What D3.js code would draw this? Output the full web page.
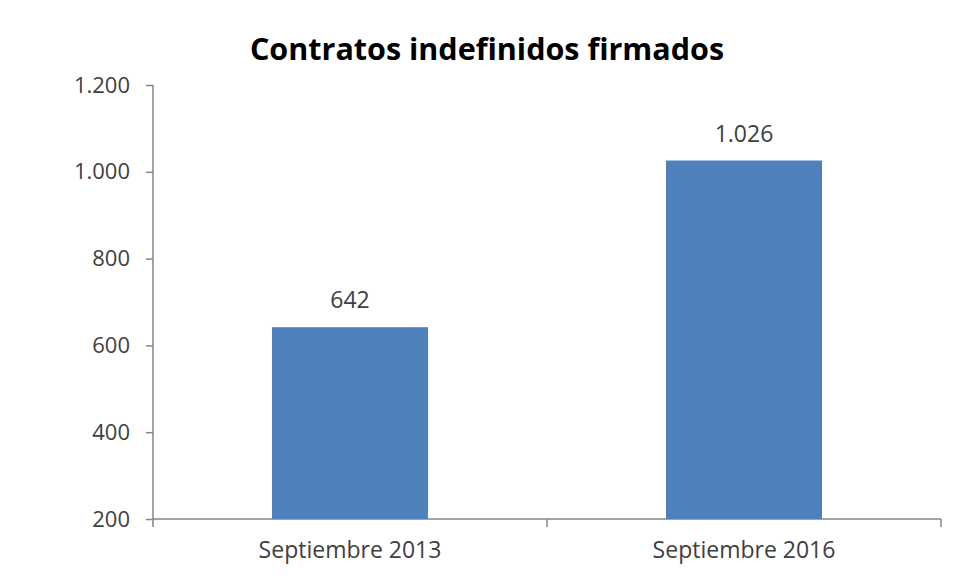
<!DOCTYPE html>
<html lang="es">
<head>
  <meta charset="UTF-8">
  <title>Contratos indefinidos firmados</title>
  <script src="https://cdn.jsdelivr.net/npm/d3@7/dist/d3.min.js"></script>
  <style>
    html, body { margin: 0; padding: 0; background: #fff; }
  </style>
</head>
<body>
  <div id="chart"></div>
  <script>
    // datos
    const categories = ['Septiembre 2013', 'Septiembre 2016'];
    const values = [642, 1026];
    const yTicks = [200, 400, 600, 800, 1000, 1200];
    const title = 'Contratos indefinidos firmados';

    const W = 956, H = 580;
    const margin = { left: 153, right: 15, top: 85, bottom: 61 };
    const font = '"Open Sans", sans-serif';

    // formato español: 1.200
    const es = d3.formatLocale({ decimal: ',', thousands: '.', grouping: [3], currency: ['', '€'] });
    const fmt = es.format(',d');

    const svg = d3.select('#chart').append('svg')
      .attr('width', W)
      .attr('height', H)
      .style('font-family', font);

    const x = d3.scaleBand()
      .domain(categories)
      .range([margin.left, W - margin.right])
      .paddingInner(0.604)
      .paddingOuter(0.302);

    const y = d3.scaleLinear()
      .domain([200, 1200])
      .range([H - margin.bottom, margin.top]);

    // eje y
    const yAxis = svg.append('g')
      .attr('transform', 'translate(' + margin.left + ',0)')
      .call(d3.axisLeft(y).tickValues(yTicks).tickSize(7).tickPadding(16).tickFormat(fmt))
      .attr('font-family', font);
    yAxis.selectAll('path, line').attr('stroke', '#868686').attr('stroke-width', 1.5);
    yAxis.select('.domain').attr('d', 'M0,' + y(1200) + 'V' + y(200));
    yAxis.selectAll('text')
      .attr('fill', '#404040')
      .style('font-size', '22px');

    // eje x
    const xAxis = svg.append('g')
      .attr('transform', 'translate(0,' + y(200) + ')')
      .call(d3.axisBottom(x).tickSize(0).tickPadding(23))
      .attr('font-family', font);
    xAxis.select('.domain').attr('stroke', '#868686').attr('stroke-width', 1.5)
      .attr('d', 'M' + x.range()[0] + ',0H' + x.range()[1]);
    xAxis.selectAll('text')
      .attr('fill', '#404040')
      .style('font-size', '23px');

    // marcas entre categorías
    const bounds = d3.range(categories.length + 1).map(i => x.range()[0] + i * x.step());
    xAxis.selectAll('.sep')
      .data(bounds)
      .enter()
      .append('line')
      .attr('class', 'sep')
      .attr('x1', d => d).attr('x2', d => d)
      .attr('y1', 0).attr('y2', 8)
      .attr('stroke', '#868686')
      .attr('stroke-width', 1.5);

    // barras
    svg.append('g')
      .selectAll('rect')
      .data(values)
      .enter()
      .append('rect')
      .attr('x', (d, i) => x(categories[i]))
      .attr('y', d => y(d))
      .attr('width', x.bandwidth())
      .attr('height', d => y(200) - y(d))
      .attr('fill', '#4f81bd');

    // etiquetas de valor
    svg.append('g')
      .selectAll('text')
      .data(values)
      .enter()
      .append('text')
      .attr('x', (d, i) => x(categories[i]) + x.bandwidth() / 2)
      .attr('y', d => y(d) - 19)
      .attr('text-anchor', 'middle')
      .attr('fill', '#404040')
      .style('font-size', '23px')
      .text(d => fmt(d));

    // título
    svg.append('text')
      .attr('x', 487)
      .attr('y', 60)
      .attr('text-anchor', 'middle')
      .attr('fill', '#000')
      .style('font-size', '30.5px')
      .style('font-weight', 'bold')
      .text(title);
  </script>
</body>
</html>
